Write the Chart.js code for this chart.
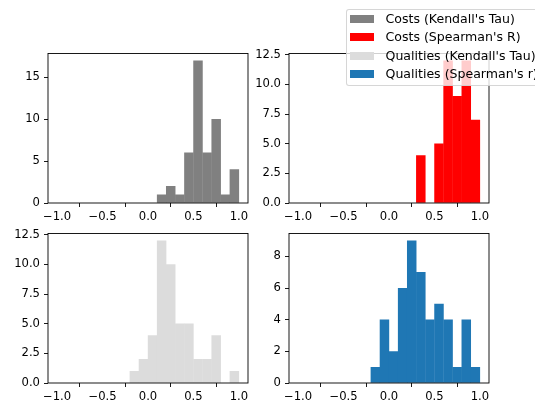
<!DOCTYPE html>
<html><head><meta charset="utf-8">
<script src="https://cdn.jsdelivr.net/npm/chart.js@4"></script>
<style>
html,body{margin:0;padding:0;width:535px;height:403px;overflow:hidden;background:#fff;}
.panel{position:absolute;width:260px;height:180px;}
#legend{position:absolute;left:345.5px;top:9px;width:220px;height:77px;box-sizing:border-box;border:1px solid rgba(204,204,204,0.8);border-radius:3px;background:rgba(255,255,255,0.8);font-family:"DejaVu Sans";font-size:12.55px;color:#000;z-index:5;}
.item{position:absolute;left:3.5px;height:14px;line-height:14px;white-space:nowrap;}
.sw{position:absolute;left:0;top:3px;width:24px;height:8px;}
.lbl{position:absolute;left:35.5px;top:0;}
</style></head>
<body>
<div class="panel" style="left:3px;top:43px"><canvas id="c1"></canvas></div>
<div class="panel" style="left:244px;top:43px"><canvas id="c2"></canvas></div>
<div class="panel" style="left:3px;top:223px"><canvas id="c3"></canvas></div>
<div class="panel" style="left:244px;top:223px"><canvas id="c4"></canvas></div>
<div id="legend"></div>
<script>
// ---- data ----
const binStarts = [-1.0,-0.9,-0.8,-0.7,-0.6,-0.5,-0.4,-0.3,-0.2,-0.1,0.0,0.1,0.2,0.3,0.4,0.5,0.6,0.7,0.8,0.9];
const binWidth = 0.1;
const costsKendall      = [0,0,0,0,0,0,0,0,0,0,0,1,2,1,6,17,6,10,1,4];
const costsSpearman     = [0,0,0,0,0,0,0,0,0,0,0,0,0,4,0,5,12,9,12,7];
const qualitiesKendall  = [0,0,0,0,0,0,0,0,1,2,4,12,10,5,5,2,2,4,0,1];
const qualitiesSpearman = [0,0,0,0,0,0,0,0,1,4,2,6,9,7,4,5,4,1,4,1];
const seriesNames = ["Costs (Kendall's Tau)","Costs (Spearman's R)","Qualities (Kendall's Tau)","Qualities (Spearman's r)"];
const seriesColors = ['#808080','#ff0000','#dcdcdc','#1f77b4'];
const xTicks = [-1.0,-0.5,0.0,0.5,1.0];
const yTicks1 = [0,5,10,15];
const yTicks2 = [0.0,2.5,5.0,7.5,10.0,12.5];
const yTicks3 = [0.0,2.5,5.0,7.5,10.0,12.5];
const yTicks4 = [0,2,4,6,8];
const yMax = [17.85,12.6,12.6,9.45];
const yDecimals = [0,1,1,0];

Chart.defaults.font.family = 'DejaVu Sans';
Chart.defaults.font.size = 11.6;
Chart.defaults.color = '#000';

const fmt = (v,d) => (v<0?'\u2212':'') + Math.abs(v).toFixed(d);

const boxPlugin = {id:'box', afterDraw(chart){
  const {ctx, chartArea:a} = chart;
  ctx.save(); ctx.strokeStyle='#000'; ctx.lineWidth=0.9;
  ctx.strokeRect(a.left,a.top,a.right-a.left,a.bottom-a.top);
  ctx.restore();
}};

function makeChart(id, counts, color, ymax, yticks, dec){
  const pts = binStarts.map((s,i)=>({x:s+binWidth/2, y:counts[i] === 0 ? null : counts[i]}));
  new Chart(document.getElementById(id), {
    type:'bar',
    data:{datasets:[{data:pts, backgroundColor:color, borderWidth:0, inflateAmount:0.2,
      barPercentage:1, categoryPercentage:1}]},
    options:{
      responsive:true, maintainAspectRatio:false, animation:false,
      layout:{padding:{top:10.5,left:0,right:15,bottom:0}},
      plugins:{legend:{display:false}, tooltip:{enabled:false}},
      scales:{
        x:{type:'linear', min:-1.1, max:1.1, offset:false,
          grid:{display:true, drawOnChartArea:false, drawTicks:true, tickLength:4, color:'#000', lineWidth:0.9},
          border:{display:false},
          ticks:{autoSkip:false, maxRotation:0, padding:3, callback:v=>fmt(v,1)},
          afterBuildTicks:s=>{s.ticks = xTicks.map(v=>({value:v}));},
          afterFit:s=>{s.height=20; s.paddingLeft=0; s.paddingRight=0;}
        },
        y:{min:0, max:ymax,
          grid:{display:true, drawOnChartArea:false, drawTicks:true, tickLength:4, color:'#000', lineWidth:0.9},
          border:{display:false},
          ticks:{autoSkip:false, padding:4, callback:v=>fmt(v,dec)},
          afterBuildTicks:s=>{s.ticks = yticks.map(v=>({value:v}));},
          afterFit:s=>{s.width=45; s.paddingTop=0; s.paddingBottom=0;}
        }
      }
    },
    plugins:[boxPlugin]
  });
}
makeChart('c1', costsKendall, seriesColors[0], yMax[0], yTicks1, yDecimals[0]);
makeChart('c2', costsSpearman, seriesColors[1], yMax[1], yTicks2, yDecimals[1]);
makeChart('c3', qualitiesKendall, seriesColors[2], yMax[2], yTicks3, yDecimals[2]);
makeChart('c4', qualitiesSpearman, seriesColors[3], yMax[3], yTicks4, yDecimals[3]);

const leg = document.getElementById('legend');
const rowTops = [2, 20.3, 38.6, 56.9];
seriesNames.forEach((n,i)=>{
  const it = document.createElement('div'); it.className='item'; it.style.top = rowTops[i]+'px';
  const sw = document.createElement('div'); sw.className='sw'; sw.style.background = seriesColors[i];
  const lb = document.createElement('span'); lb.className='lbl'; lb.textContent = n;
  it.appendChild(sw); it.appendChild(lb); leg.appendChild(it);
});
</script>
</body></html>
